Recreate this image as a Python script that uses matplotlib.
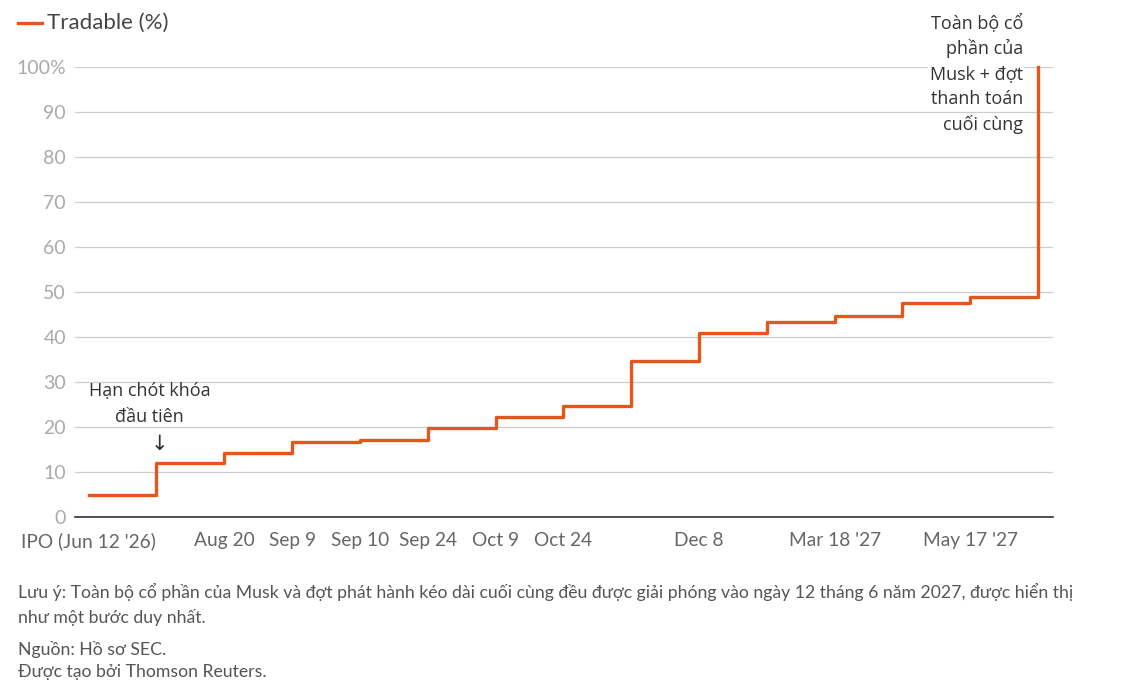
import numpy as np
import matplotlib
matplotlib.use('Agg')
import matplotlib.pyplot as plt

plt.rcParams['font.family'] = ['Lato', 'DejaVu Sans']

# ---------------------------------------------------------------- #

tradable = [5.0, 11.9, 14.2, 16.7, 17.1, 19.7, 22.2, 24.7,
            34.6, 40.8, 43.4, 44.7, 47.6, 48.9, 100.0]
steps = np.arange(len(tradable))

tick_steps = [0, 2, 3, 4, 5, 6, 7, 9, 11, 13]
tick_labels = ["IPO (Jun 12 '26)", 'Aug 20', 'Sep 9', 'Sep 10', 'Sep 24',
               'Oct 9', 'Oct 24', 'Dec 8', "Mar 18 '27", "May 17 '27"]

y_ticks = [0, 10, 20, 30, 40, 50, 60, 70, 80, 90, 100]
y_labels = ['0', '10', '20', '30', '40', '50', '60', '70', '80', '90', '100%']

first_lockup = ['Hạn chót khóa', 'đầu tiên']
final_release = ['Toàn bộ cổ', 'phần của', 'Musk + đợt', 'thanh toán', 'cuối cùng']
note = ['Lưu ý: Toàn bộ cổ phần của Musk và đợt phát hành kéo dài cuối cùng đều được '
        'giải phóng vào ngày 12 tháng 6 năm 2027, được hiển thị',
        'như một bước duy nhất.']
source = ['Nguồn: Hồ sơ SEC.', 'Được tạo bởi Thomson Reuters.']

orange = '#e5561a'
annot_font = ['Open Sans', 'DejaVu Sans']

# ---------------------------------------------------------------- #

fig = plt.figure(figsize=(11.44, 6.94), dpi=100)
ax = fig.add_axes([0.0656, 0.255, 0.8549, 0.6484])

ax.plot(steps, tradable, drawstyle='steps-post', color=orange,
        linewidth=2.4, clip_on=False, zorder=3)

ax.set_xlim(-0.2, 14.22)
ax.set_ylim(0, 100)

ax.set_yticks(y_ticks)
ax.set_yticklabels(y_labels)
ax.set_xticks(tick_steps)
ax.set_xticklabels(tick_labels)

ax.tick_params(axis='y', length=0, pad=6.5, labelsize=14, labelcolor='#aaaaaa')
ax.tick_params(axis='x', length=0, pad=11, labelsize=13.8, labelcolor='#666666')

ax.grid(axis='y', color='#cccccc', linewidth=0.9)
ax.set_axisbelow(True)
for side in ['top', 'right', 'left']:
    ax.spines[side].set_visible(False)
ax.spines['bottom'].set_color('#333333')
ax.spines['bottom'].set_linewidth(1.2)
ax.spines['bottom'].set_zorder(4)

# first lock-up annotation
for line, yv in zip(first_lockup, [28.0, 22.2]):
    ax.text(0.9, yv, line, ha='center', va='center', fontsize=13,
            color='#333333', family=annot_font)
ax.text(1.05, 16.2, '↓', ha='center', va='center', fontsize=15,
        color='#333333', family=['DejaVu Sans'])

# final release annotation
for i, line in enumerate(final_release):
    fig.text(1023 / 1144, 1 - (23 + 25.5 * i) / 694, line,
             ha='right', va='center', fontsize=13, color='#333333',
             family=annot_font,
             bbox=dict(facecolor='white', edgecolor='none', pad=1))

# legend
fig.add_artist(plt.Line2D([18 / 1144, 42 / 1144], [1 - 23 / 694, 1 - 23 / 694],
                          color=orange, linewidth=2.4))
fig.text(47 / 1144, 1 - 23 / 694, 'Tradable (%)', ha='left', va='center',
         fontsize=16, color='#444444')

# footnotes
for line, yp in zip(note + source, [592, 617, 649, 672]):
    fig.text(18 / 1144, 1 - yp / 694, line, ha='left', va='center',
             fontsize=12.7, color='#555555')

fig.savefig('out.png', dpi=100)
